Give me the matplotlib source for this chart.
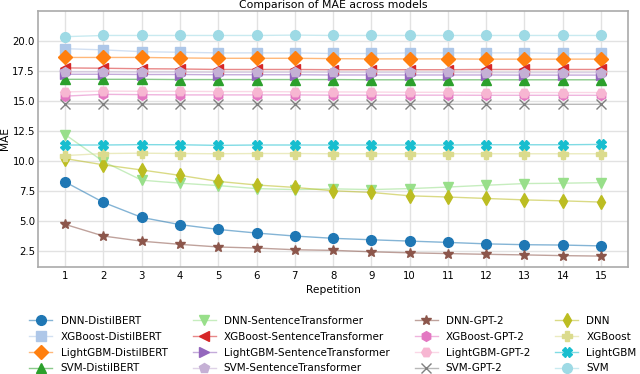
import matplotlib
matplotlib.use("Agg")
import matplotlib.pyplot as plt
from matplotlib.colors import to_rgba

# Repetition index
reps = list(range(1, 16))

# MAE per model
dnn_distilbert = [8.25, 6.55, 5.3, 4.7, 4.3, 4.0, 3.75, 3.56, 3.44, 3.33, 3.22, 3.1, 3.03, 3.0, 2.93]
xgb_distilbert = [19.35, 19.25, 19.1, 19.05, 19.0, 19.0, 19.0, 18.95, 18.95, 19.0, 19.0, 19.0, 19.0, 18.95, 18.95]
lgbm_distilbert = [18.62, 18.62, 18.62, 18.58, 18.55, 18.55, 18.55, 18.52, 18.5, 18.5, 18.5, 18.48, 18.48, 18.48, 18.48]
svm_distilbert = [16.8, 16.8, 16.8, 16.78, 16.78, 16.78, 16.78, 16.78, 16.76, 16.76, 16.76, 16.76, 16.76, 16.76, 16.76]
dnn_st = [12.2, 9.95, 8.4, 8.15, 7.95, 7.7, 7.62, 7.68, 7.62, 7.7, 7.83, 7.98, 8.12, 8.15, 8.2]
xgb_st = [17.75, 17.72, 17.68, 17.66, 17.62, 17.62, 17.62, 17.6, 17.6, 17.6, 17.6, 17.62, 17.62, 17.62, 17.62]
lgbm_st = [17.22, 17.22, 17.2, 17.2, 17.18, 17.18, 17.18, 17.16, 17.16, 17.16, 17.16, 17.16, 17.15, 17.15, 17.15]
svm_st = [17.42, 17.42, 17.4, 17.4, 17.38, 17.38, 17.38, 17.38, 17.37, 17.37, 17.37, 17.36, 17.36, 17.36, 17.36]
dnn_gpt2 = [4.72, 3.75, 3.32, 3.06, 2.84, 2.75, 2.61, 2.56, 2.44, 2.35, 2.29, 2.23, 2.18, 2.12, 2.08]
xgb_gpt2 = [15.4, 15.55, 15.52, 15.5, 15.5, 15.5, 15.5, 15.48, 15.48, 15.48, 15.48, 15.47, 15.47, 15.47, 15.47]
lgbm_gpt2 = [15.75, 15.82, 15.8, 15.8, 15.78, 15.78, 15.76, 15.75, 15.74, 15.72, 15.72, 15.7, 15.7, 15.7, 15.7]
svm_gpt2 = [14.75, 14.75, 14.74, 14.74, 14.74, 14.74, 14.73, 14.73, 14.73, 14.72, 14.72, 14.72, 14.72, 14.72, 14.72]
dnn = [10.2, 9.68, 9.25, 8.8, 8.3, 8.0, 7.8, 7.52, 7.38, 7.1, 7.0, 6.88, 6.76, 6.68, 6.58]
xgb = [10.45, 10.62, 10.65, 10.62, 10.6, 10.62, 10.62, 10.6, 10.6, 10.6, 10.6, 10.6, 10.6, 10.6, 10.6]
lgbm = [11.33, 11.33, 11.36, 11.35, 11.3, 11.33, 11.33, 11.33, 11.33, 11.33, 11.33, 11.35, 11.35, 11.35, 11.38]
svm = [20.35, 20.45, 20.45, 20.45, 20.45, 20.45, 20.48, 20.45, 20.45, 20.45, 20.45, 20.45, 20.45, 20.45, 20.45]

labels = [
    "DNN-DistilBERT", "XGBoost-DistilBERT", "LightGBM-DistilBERT", "SVM-DistilBERT",
    "DNN-SentenceTransformer", "XGBoost-SentenceTransformer", "LightGBM-SentenceTransformer", "SVM-SentenceTransformer",
    "DNN-GPT-2", "XGBoost-GPT-2", "LightGBM-GPT-2", "SVM-GPT-2",
    "DNN", "XGBoost", "LightGBM", "SVM",
]
series = [
    dnn_distilbert, xgb_distilbert, lgbm_distilbert, svm_distilbert,
    dnn_st, xgb_st, lgbm_st, svm_st,
    dnn_gpt2, xgb_gpt2, lgbm_gpt2, svm_gpt2,
    dnn, xgb, lgbm, svm,
]
colors = [
    "#1f77b4", "#aec7e8", "#ff7f0e", "#2ca02c",
    "#98df8a", "#d62728", "#9467bd", "#c5b0d5",
    "#8c564b", "#e377c2", "#f7b6d2", "#7f7f7f",
    "#bcbd22", "#dbdb8d", "#17becf", "#9edae5",
]
markers = ["o", "s", "D", "^", "v", "<", ">", "p", "*", "h", "H", "x", "d", "P", "X", "o"]

fig = plt.figure(figsize=(6.4, 3.74), dpi=100)
ax = fig.add_axes([0.060, 0.286, 0.921, 0.685])

for y, lab, c, m in zip(series, labels, colors, markers):
    ax.plot(reps, y, color=to_rgba(c, 0.55), linewidth=1.0, marker=m, markersize=7.0,
            markerfacecolor=c, markeredgecolor=c, label=lab, zorder=3)

ax.set_xlim(0.3, 15.7)
ax.set_ylim(1.17, 22.5)
ax.set_xticks(reps)
ax.set_yticks([2.5, 5.0, 7.5, 10.0, 12.5, 15.0, 17.5, 20.0])
ax.grid(True, color="#e2e2e2", linewidth=1.0)
ax.set_axisbelow(True)
ax.tick_params(length=0, labelsize=7.3, pad=2.5)
for spine in ax.spines.values():
    spine.set_color("#aaaaaa")
    spine.set_linewidth(1.2)

ax.set_title("Comparison of MAE across models", fontsize=7.8, pad=2.0)
ax.set_xlabel("Repetition", fontsize=7.7, labelpad=3)
ax.set_ylabel("MAE", fontsize=7.7, labelpad=1.5)

ax.legend(loc="upper center", bbox_to_anchor=(0.5, -0.155), ncol=4, frameon=False,
          fontsize=7.5, handlelength=2.2, handletextpad=0.8, columnspacing=2.4,
          labelspacing=0.55)

fig.savefig("out.png", dpi=100)
